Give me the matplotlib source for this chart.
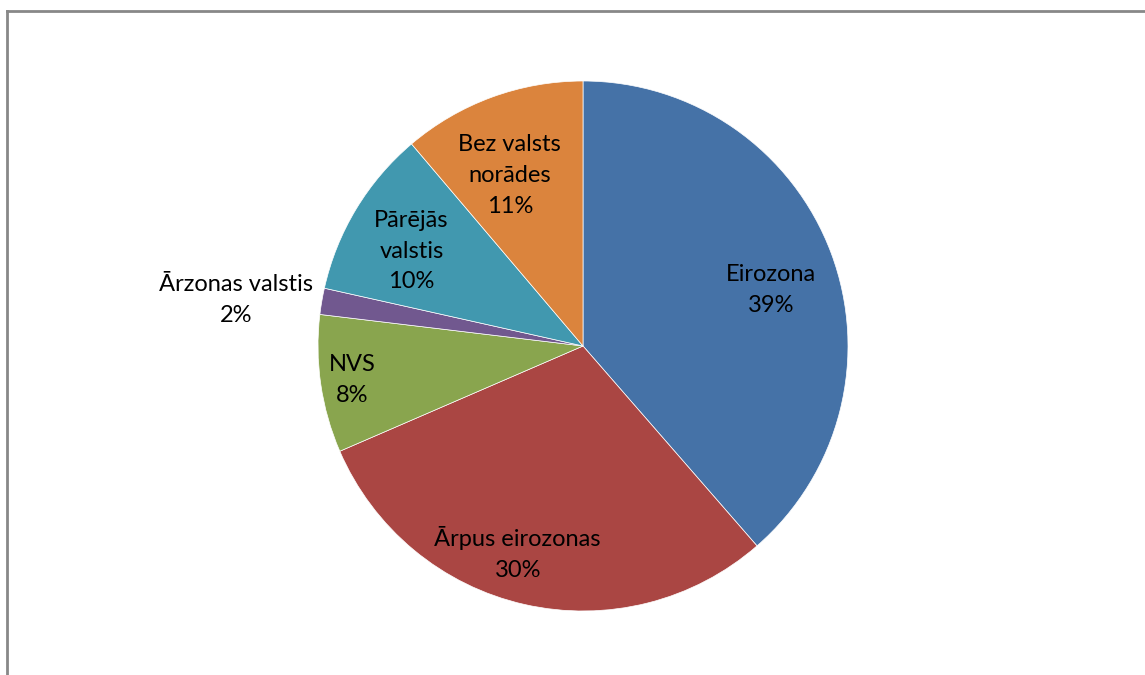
import numpy as np
import matplotlib
matplotlib.use("Agg")
import matplotlib.pyplot as plt
from matplotlib.lines import Line2D

categories = ["Eirozona", "Ārpus eirozonas", "NVS", "Ārzonas valstis",
              "Pārējās valstis", "Bez valsts norādes"]
label_names = ["Eirozona", "Ārpus eirozonas", "NVS", "Ārzonas valstis",
               "Pārējās\nvalstis", "Bez valsts\nnorādes"]
values = [38.6, 29.9, 8.4, 1.6, 10.3, 11.2]
colors = ["#4572A7", "#AA4643", "#89A54E", "#71588F", "#4198AF", "#DB843D"]

# label placement (radius fraction, angular offset in degrees) - style only
label_r = [0.74, 0.82, 0.88, 1.32, 0.74, 0.70]
label_dtheta = [-4.0, -4.7, 0.0, 2.2, 2.2, 3.1]

plt.rcParams['font.family'] = ['Lato', 'DejaVu Sans']

W, H = 1145, 675
fig = plt.figure(figsize=(W / 100, H / 100), dpi=100)
cx, cy, R = 583, 346, 265
ax = fig.add_axes([(cx - R) / W, (H - cy - R) / H, 2 * R / W, 2 * R / H])
wedges, _ = ax.pie(values, colors=colors, startangle=90, counterclock=False,
                   wedgeprops=dict(edgecolor="white", linewidth=0.5))
ax.set_xlim(-1, 1)
ax.set_ylim(-1, 1)
ax.set_aspect("equal")
ax.axis("off")

total = sum(values)
for w, name, v, r, dt in zip(wedges, label_names, values, label_r, label_dtheta):
    mid = (w.theta1 + w.theta2) / 2 + dt
    x = r * np.cos(np.deg2rad(mid))
    y = r * np.sin(np.deg2rad(mid))
    ax.text(x, y, f"{name}\n{v / total * 100:.0f}%", ha="center", va="center",
            fontsize=17, color="black", linespacing=1.58, clip_on=False)

# chart frame (top and left edges visible)
fig.add_artist(Line2D([6.5 / W, 1], [1 - 10.5 / H, 1 - 10.5 / H],
                      transform=fig.transFigure, color="#888888", linewidth=2))
fig.add_artist(Line2D([6.5 / W, 6.5 / W], [0, 1 - 10.5 / H],
                      transform=fig.transFigure, color="#888888", linewidth=2))

fig.savefig("out.png", dpi=100)
